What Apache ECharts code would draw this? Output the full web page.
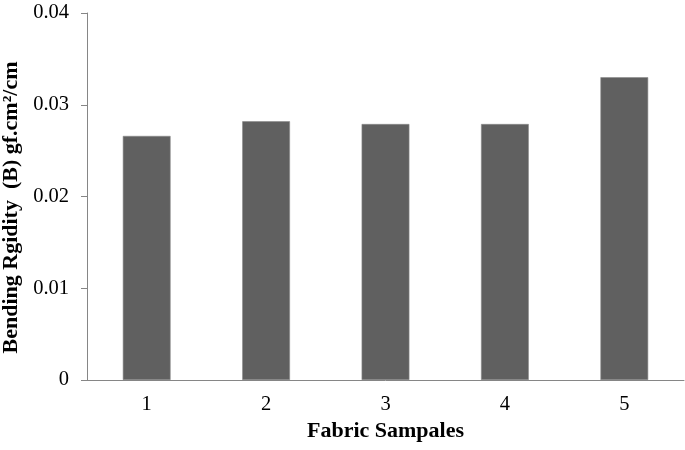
<!DOCTYPE html>
<html>
<head>
<meta charset="utf-8">
<script src="https://cdn.jsdelivr.net/npm/echarts@6/dist/echarts.min.js"></script>
<style>
  html, body { margin: 0; padding: 0; background: #fff; }
  #chart { width: 685px; height: 450px; }
</style>
</head>
<body>
<div id="chart"></div>
<script>
const samples = ['1', '2', '3', '4', '5']
const rigidity = [0.0266, 0.0282, 0.0279, 0.0279, 0.0330]
const yTicks = { min: 0, max: 0.04, interval: 0.01 }

const axisGrey = '#868686'
const serif = 'Liberation Serif'

const chart = echarts.init(document.getElementById('chart'))

chart.setOption({
  animation: false,
  grid: { left: 87, right: 1, top: 13, bottom: 70, containLabel: false, outerBoundsMode: 'none' },
  xAxis: {
    type: 'category',
    data: samples,
    name: 'Fabric Sampales',
    nameLocation: 'middle',
    nameGap: 37,
    nameTextStyle: { fontFamily: serif, fontSize: 22, fontWeight: 'bold', color: '#000' },
    axisLine: { lineStyle: { color: axisGrey, width: 1 } },
    axisTick: { alignWithLabel: false, length: 6, lineStyle: { color: axisGrey } },
    axisLabel: { fontFamily: serif, fontSize: 20.5, color: '#000', margin: 14 }
  },
  yAxis: {
    type: 'value',
    min: yTicks.min,
    max: yTicks.max,
    interval: yTicks.interval,
    name: 'Bending Rgidity  (B) gf.cm\u00b2/cm',
    nameLocation: 'middle',
    nameGap: 64,
    nameTextStyle: { fontFamily: serif, fontSize: 22, fontWeight: 'bold', color: '#000', padding: [0, 0, 0, -22] },
    axisLine: { show: true, lineStyle: { color: axisGrey, width: 1 } },
    axisTick: { show: true, length: 6, lineStyle: { color: axisGrey } },
    splitLine: { show: false },
    axisLabel: {
      fontFamily: serif, fontSize: 20.5, color: '#000', margin: 18,
      formatter: v => v === 0 ? '0' : v.toFixed(2)
    }
  },
  series: [{
    type: 'bar',
    data: rigidity,
    barWidth: '40%',
    itemStyle: { color: '#606060', borderColor: '#8a8a8a', borderWidth: 0.6 }
  }]
})
</script>
</body>
</html>
